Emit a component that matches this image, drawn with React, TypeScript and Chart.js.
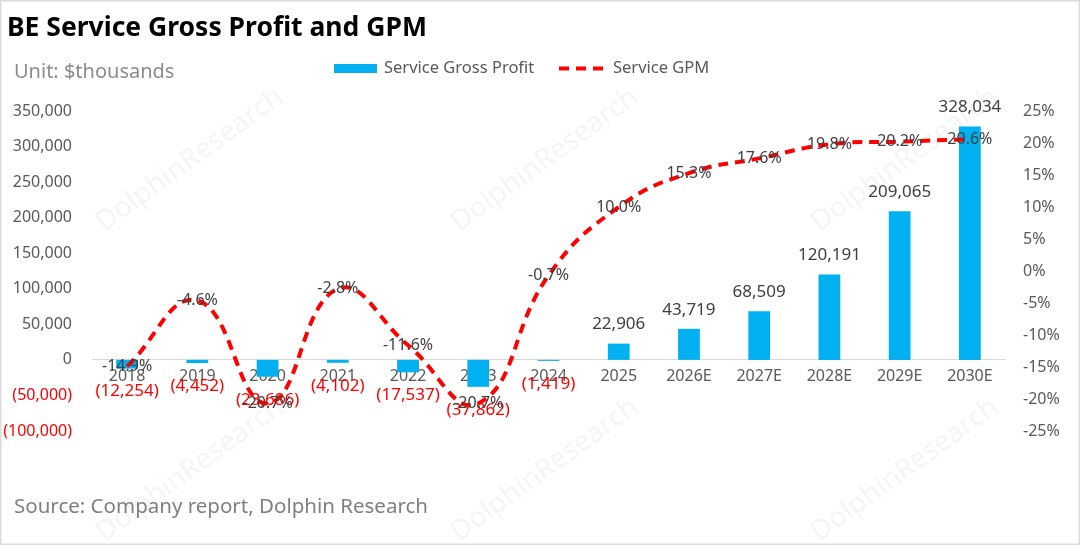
import React, { useEffect, useRef } from "react";
import { Chart, registerables } from "chart.js";

Chart.register(...registerables);

const categories = ["2018", "2019", "2020", "2021", "2022", "2023", "2024", "2025", "2026E", "2027E", "2028E", "2029E", "2030E"];
const grossProfit = [-12254, -4452, -23686, -4102, -17537, -37862, -1419, 22906, 43719, 68509, 120191, 209065, 328034];
const gpm = [-14.9, -4.6, -20.7, -2.8, -11.6, -20.7, -0.7, 10.0, 15.3, 17.6, 19.8, 20.2, 20.6];

const leftAxis = { min: -100000, max: 350000, step: 50000 };
const rightAxis = { min: -25, max: 25, step: 5 };

const titleText = "BE Service Gross Profit and GPM";
const unitText = "Unit: $thousands";
const sourceText = "Source: Company report, Dolphin Research";
const barLabel = "Service Gross Profit";
const lineLabel = "Service GPM";
const watermark = "DolphinResearch";

const FONT = "'Noto Sans', 'Open Sans', sans-serif";
const BLUE = "#00B0F0";
const RED = "#FF0000";
const TICK = "#595959";
const LABEL = "#404040";

const fmt = (v: number) => Math.round(v).toLocaleString("en-US");

const decorPlugin = {
  id: "decor",
  beforeDraw(chart: any) {
    const { ctx, width, height } = chart;
    ctx.save();
    ctx.fillStyle = "#ffffff";
    ctx.fillRect(0, 0, width, height);
    ctx.fillStyle = "rgba(0,0,0,0.045)";
    ctx.font = `28px ${FONT}`;
    ctx.textAlign = "center";
    ctx.textBaseline = "middle";
    const spots = [
      [190, 160], [545, 160], [905, 160],
      [190, 470], [545, 470], [905, 470],
    ];
    spots.forEach(([x, y]) => {
      ctx.save();
      ctx.translate(x, y);
      ctx.rotate(-Math.PI / 5);
      ctx.fillText(watermark, 0, 0);
      ctx.restore();
    });
    ctx.restore();
  },
  afterDraw(chart: any) {
    const { ctx, width, height } = chart;
    ctx.save();
    ctx.strokeStyle = "#dcdcdc";
    ctx.lineWidth = 3;
    ctx.strokeRect(0, 0, width, height);
    ctx.fillStyle = "#000000";
    ctx.font = `bold 26.5px ${FONT}`;
    ctx.textAlign = "left";
    ctx.textBaseline = "alphabetic";
    ctx.fillText(titleText, 7, 36);
    ctx.fillStyle = "#8c8c8c";
    ctx.font = `20px ${FONT}`;
    ctx.textBaseline = "middle";
    ctx.fillText(unitText, 14, 72);
    ctx.fillStyle = "#7f7f7f";
    ctx.font = `20.5px ${FONT}`;
    ctx.fillText(sourceText, 14, 507);
    ctx.font = `16.5px ${FONT}`;
    ctx.fillStyle = BLUE;
    ctx.fillRect(334, 64, 43, 9);
    ctx.fillStyle = TICK;
    ctx.fillText(barLabel, 384, 68);
    ctx.strokeStyle = RED;
    ctx.lineWidth = 4;
    ctx.setLineDash([10, 7]);
    ctx.beginPath();
    ctx.moveTo(559, 68.5);
    ctx.lineTo(606, 68.5);
    ctx.stroke();
    ctx.setLineDash([]);
    ctx.fillStyle = TICK;
    ctx.fillText(lineLabel, 613, 68);
    ctx.restore();
  },
  afterDatasetsDraw(chart: any) {
    const { ctx } = chart;
    ctx.save();
    ctx.textAlign = "center";
    ctx.textBaseline = "middle";
    const barMeta = chart.getDatasetMeta(1);
    const lineMeta = chart.getDatasetMeta(0);
    ctx.font = `17px ${FONT}`;
    barMeta.data.forEach((bar: any, i: number) => {
      const v = grossProfit[i];
      const { x, y } = bar.getProps(["x", "y"], true);
      if (v >= 0) {
        ctx.fillStyle = LABEL;
        ctx.fillText(fmt(v), x, y - 19);
      } else {
        ctx.fillStyle = RED;
        ctx.fillText(`(${fmt(-v)})`, x, y + 23);
      }
    });
    ctx.font = `16px ${FONT}`;
    ctx.fillStyle = LABEL;
    lineMeta.data.forEach((pt: any, i: number) => {
      const { x, y } = pt.getProps(["x", "y"], true);
      ctx.fillText(`${gpm[i].toFixed(1)}%`, x, y);
    });
    ctx.restore();
  },
};

export default function App() {
  const ref = useRef<HTMLCanvasElement | null>(null);

  useEffect(() => {
    document.body.style.margin = "0";
    document.body.style.overflow = "hidden";
    if (!ref.current) return;
    const chart = new Chart(ref.current, {
      type: "bar",
      data: {
        labels: categories,
        datasets: [
          {
            type: "line",
            label: lineLabel,
            data: gpm,
            yAxisID: "y1",
            borderColor: RED,
            borderWidth: 4,
            borderDash: [10, 7],
            pointRadius: 0,
            tension: 0.45,
            fill: false,
            order: 0,
          } as any,
          {
            type: "bar",
            label: barLabel,
            data: grossProfit,
            yAxisID: "y",
            backgroundColor: BLUE,
            borderWidth: 0,
            barPercentage: 0.31,
            categoryPercentage: 1,
            order: 1,
          },
        ],
      },
      options: {
        responsive: false,
        animation: false,
        layout: { padding: { top: 111, bottom: 114, left: 0, right: 0 } },
        plugins: {
          legend: { display: false },
          tooltip: { enabled: false },
          title: { display: false },
        },
        scales: {
          x: {
            type: "category",
            position: { y: 0 } as any,
            offset: true,
            grid: { display: false, drawTicks: false },
            border: { display: true, color: "#d9d9d9", width: 1 },
            ticks: {
              color: TICK,
              font: { size: 16, family: FONT },
              padding: 7,
              maxRotation: 0,
              autoSkip: false,
            },
          },
          y: {
            position: "left",
            min: leftAxis.min,
            max: leftAxis.max,
            grid: { display: false, drawTicks: false },
            border: { display: false },
            ticks: {
              stepSize: leftAxis.step,
              padding: 20,
              font: { size: 16, family: FONT },
              color: (c: any) => (c.tick && c.tick.value < 0 ? RED : TICK),
              callback: (v: any) => (v < 0 ? `(${fmt(-v)})` : fmt(v)),
            },
            afterFit: (s: any) => {
              s.width = 92;
            },
          },
          y1: {
            position: "right",
            min: rightAxis.min,
            max: rightAxis.max,
            grid: { display: false, drawTicks: false },
            border: { display: false },
            ticks: {
              stepSize: rightAxis.step,
              padding: 18,
              font: { size: 16, family: FONT },
              color: TICK,
              callback: (v: any) => `${v}%`,
            },
            afterFit: (s: any) => {
              s.width = 75;
            },
          },
        },
      },
      plugins: [decorPlugin],
    });
    return () => chart.destroy();
  }, []);

  return (
    <div style={{ width: 1080, height: 545 }}>
      <canvas ref={ref} width={1080} height={545} />
    </div>
  );
}
